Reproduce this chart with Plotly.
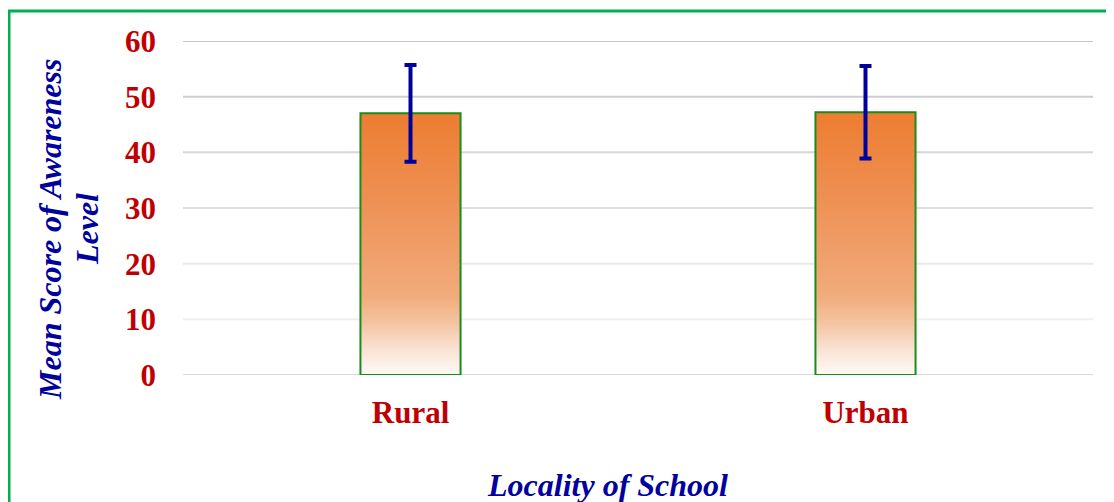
import plotly.graph_objects as go

categories = ["Rural", "Urban"]
mean_scores = [47.0, 47.2]
error_sd = [8.7, 8.3]
y_ticks = [0, 10, 20, 30, 40, 50, 60]
grid_colors = ["#D9D9D9", "#EFEFEF", "#E8E8E8", "#DEDEDE", "#D6D6D6", "#CECECE", "#C6C6C6"]

BAR_W = 0.22
positions = list(range(len(categories)))

RED = "#C00000"
BLUE = "#00009E"
GREEN_BAR = "#1A8C1A"
FONT = "Liberation Serif"

gradient = [
    [0.0, "rgb(254,250,247)"],
    [0.1, "rgb(249,226,210)"],
    [0.2, "rgb(244,195,160)"],
    [0.3, "rgb(241,172,123)"],
    [0.45, "rgb(240,160,108)"],
    [0.7, "rgb(238,142,80)"],
    [1.0, "rgb(237,125,49)"],
]

fig = go.Figure()

# gradient fills of the bars (drawn on the main axes)
for p, v in zip(positions, mean_scores):
    x0, x1 = p - BAR_W / 2, p + BAR_W / 2
    fig.add_trace(go.Scatter(
        x=[x0, x0, x1, x1, x0], y=[0, v, v, 0, 0],
        mode="lines", line=dict(width=0), fill="toself",
        fillgradient=dict(type="vertical", colorscale=gradient, start=0, stop=v),
        hoverinfo="skip", showlegend=False,
    ))

# bars (outline) with error bars on overlaying axes so they sit on top
fig.add_trace(go.Bar(
    x=positions, y=mean_scores, width=BAR_W,
    marker=dict(color="rgba(0,0,0,0)", line=dict(color=GREEN_BAR, width=2)),
    error_y=dict(type="data", array=error_sd, visible=True, color=BLUE, thickness=4, width=6),
    xaxis="x2", yaxis="y2", showlegend=False,
))

shapes = []
for t, c in zip(y_ticks, grid_colors):
    shapes.append(dict(type="line", xref="paper", yref="y", x0=0, x1=1, y0=t, y1=t,
                       line=dict(color=c, width=2), layer="below"))
shapes.append(dict(type="rect", xref="paper", yref="paper", x0=-0.1912, x1=1.2, y0=-0.6, y1=1.0898,
                   line=dict(color="#00B050", width=3), fillcolor="rgba(0,0,0,0)"))

title_font = dict(family=FONT, size=32, color=BLUE, weight="bold", style="italic")

fig.update_layout(
    width=1114, height=502,
    margin=dict(l=175, r=29, t=33, b=135),
    paper_bgcolor="white", plot_bgcolor="white",
    shapes=shapes,
    xaxis=dict(range=[-0.5, 1.5], tickvals=positions, ticktext=categories,
               showgrid=False, zeroline=False, showline=False, ticks="",
               ticklabelstandoff=16,
               tickfont=dict(family=FONT, size=31, color=RED, weight="bold")),
    yaxis=dict(range=[0, 60], tickvals=y_ticks, showgrid=False, zeroline=False,
               showline=False, ticks="", ticklabelstandoff=26,
               tickfont=dict(family=FONT, size=31, color=RED, weight="bold")),
    xaxis2=dict(range=[-0.5, 1.5], overlaying="x", visible=False),
    yaxis2=dict(range=[0, 60], overlaying="y", visible=False),
    annotations=[
        dict(text="Locality of School", xref="paper", yref="paper", x=0.467, y=-0.328,
             showarrow=False, xanchor="center", yanchor="middle", font=title_font),
        dict(text="Mean Score of Awareness", xref="paper", yref="paper",
             x=-0.1462, y=0.437, textangle=-90, showarrow=False,
             xanchor="center", yanchor="middle", font=title_font),
        dict(text="Level", xref="paper", yref="paper",
             x=-0.1055, y=0.437, textangle=-90, showarrow=False,
             xanchor="center", yanchor="middle", font=title_font),
    ],
)

fig.write_html("out.html")
